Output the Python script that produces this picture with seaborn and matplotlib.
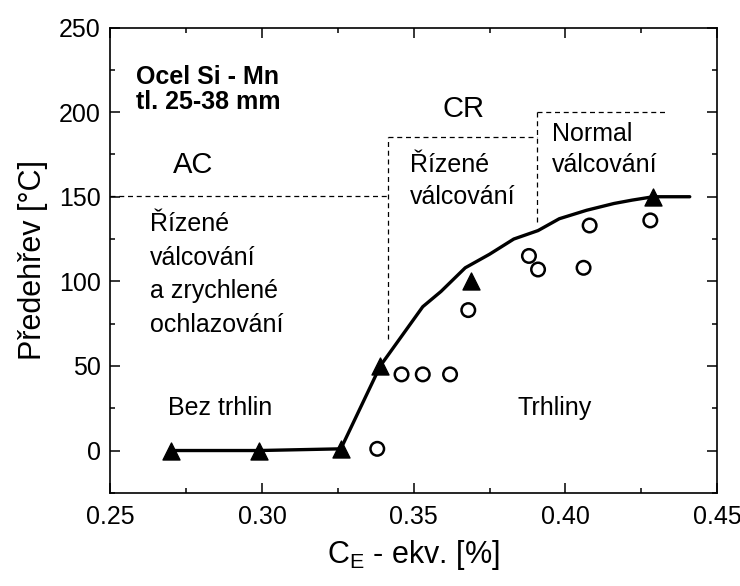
import numpy as np
import pandas as pd
import matplotlib
matplotlib.use("Agg")
import matplotlib.pyplot as plt
import seaborn as sns

# triangles - preheat without cracks
tri_x = [0.270, 0.299, 0.326, 0.339, 0.369, 0.429]
tri_y = [0, 0, 1, 50, 100, 150]

# circles - cracks
circ_x = [0.338, 0.346, 0.353, 0.362, 0.368, 0.388, 0.391, 0.406, 0.408, 0.428]
circ_y = [1, 45, 45, 45, 83, 115, 107, 108, 133, 136]

# boundary curve
curve_x = [0.270, 0.299, 0.326, 0.339, 0.353, 0.359, 0.367, 0.375, 0.383,
           0.391, 0.398, 0.407, 0.416, 0.422, 0.429, 0.441]
curve_y = [0, 0, 1, 50, 85, 94, 108, 116, 125, 130, 137, 142, 146, 148, 150, 150]

sns.set_theme(style="ticks")
plt.rcParams['font.family'] = ['Liberation Sans', 'DejaVu Sans']
plt.rcParams['mathtext.default'] = 'regular'
plt.rcParams['text.color'] = 'black'
plt.rcParams['axes.labelcolor'] = 'black'

fig = plt.figure(figsize=(7.4, 5.86), dpi=100)
ax = fig.add_axes([0.149, 0.159, 0.820, 0.794])

sns.lineplot(x=curve_x, y=curve_y, ax=ax, color='black', linewidth=2.4, sort=False)
sns.scatterplot(x=tri_x, y=tri_y, ax=ax, marker='^', s=150, color='black',
                edgecolor='black', zorder=5)
sns.scatterplot(x=circ_x, y=circ_y, ax=ax, marker='o', s=95, facecolor='none',
                edgecolor='black', linewidth=1.8, zorder=5)

# dashed region borders
dash = dict(color='black', linestyle=(0, (4, 3)), linewidth=0.9)
ax.plot([0.25, 0.3414], [150.5, 150.5], **dash)
ax.plot([0.3414, 0.3414], [66, 185.5], **dash)
ax.plot([0.3414, 0.3905], [185.5, 185.5], **dash)
ax.plot([0.3905, 0.3905], [135, 200], **dash)
ax.plot([0.3905, 0.433], [200, 200], **dash)

ax.set_xlim(0.25, 0.45)
ax.set_ylim(-25, 250)
ax.set_xticks([0.25, 0.30, 0.35, 0.40, 0.45])
ax.set_xticklabels(['0.25', '0.30', '0.35', '0.40', '0.45'])
ax.set_xticks(np.arange(0.275, 0.45, 0.05), minor=True)
ax.set_yticks([0, 50, 100, 150, 200, 250])
ax.set_yticks([-25, 25, 75, 125, 175, 225], minor=True)
ax.tick_params(which='both', direction='in', top=True, right=True,
               width=1.1, colors='black', labelsize=18)
ax.tick_params(which='major', length=7)
ax.tick_params(which='minor', length=3.5)
ax.tick_params(axis='x', pad=9)
ax.tick_params(axis='y', pad=7)
for s in ax.spines.values():
    s.set_linewidth(1.2)
    s.set_color('black')

ax.set_xlabel(r'C$_E$ - ekv. [%]', fontsize=22, labelpad=6)
ax.set_ylabel('Předehřev [°C]', fontsize=22, labelpad=8)

txt = dict(fontsize=18, color='black', va='center', ha='left')
ax.text(0.2585, 221, 'Ocel Si - Mn', fontweight='bold', **txt)
ax.text(0.2585, 206, 'tl. 25-38 mm', fontweight='bold', **txt)
ax.text(0.2705, 169, 'AC', fontsize=21, va='center', ha='left')
ax.text(0.3595, 202, 'CR', fontsize=21, va='center', ha='left')
ax.text(0.263, 134, 'Řízené', **txt)
ax.text(0.263, 114, 'válcování', **txt)
ax.text(0.263, 94, 'a zrychlené', **txt)
ax.text(0.263, 74, 'ochlazování', **txt)
ax.text(0.3487, 169, 'Řízené', **txt)
ax.text(0.3487, 150, 'válcování', **txt)
ax.text(0.3957, 187, 'Normal', **txt)
ax.text(0.3957, 169, 'válcování', **txt)
ax.text(0.269, 25, 'Bez trhlin', **txt)
ax.text(0.3842, 25, 'Trhliny', **txt)

fig.savefig('out.png', dpi=100)
